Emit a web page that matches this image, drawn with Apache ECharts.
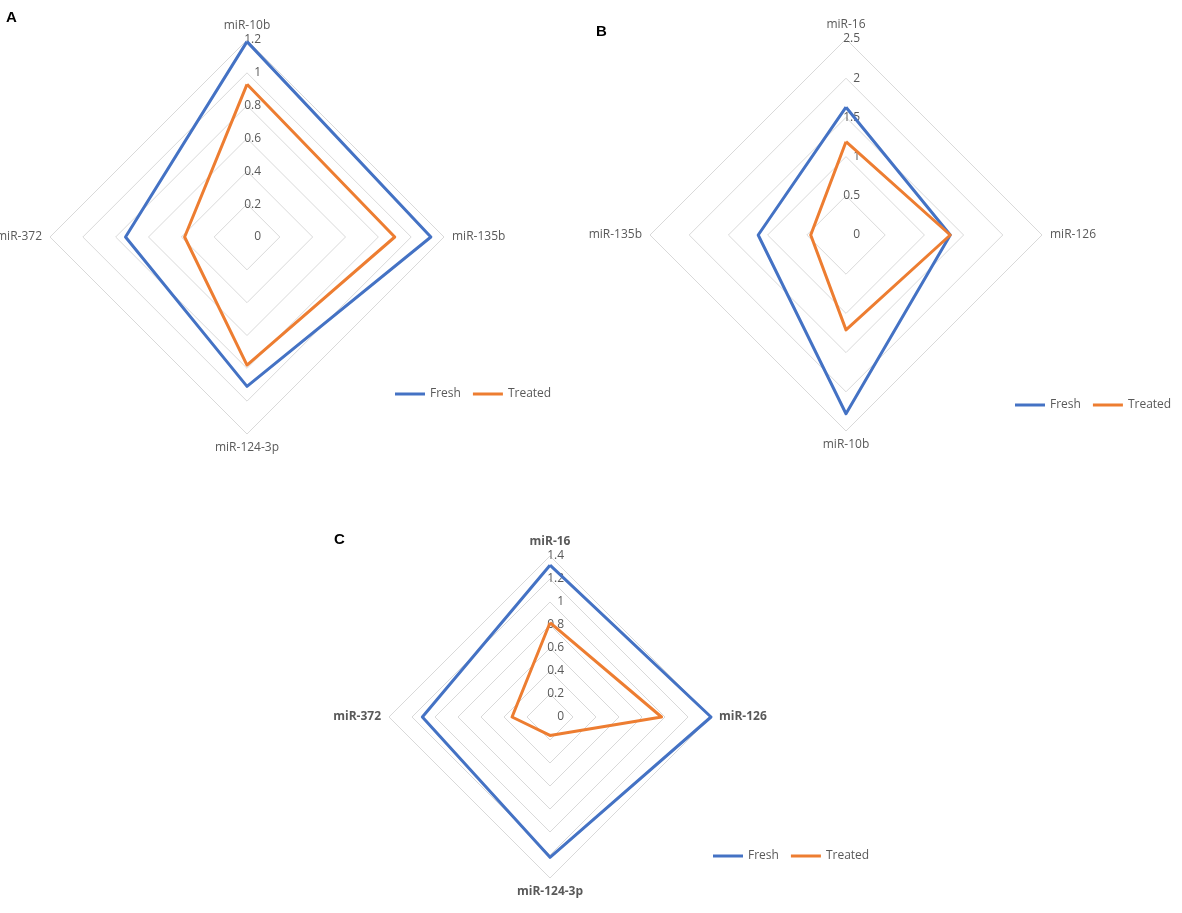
<!DOCTYPE html>
<html>
<head>
<meta charset="utf-8">
<script src="https://cdn.jsdelivr.net/npm/echarts@6/dist/echarts.min.js"></script>
<style>html,body{margin:0;background:#fff}#chart{width:1182px;height:913px}</style>
</head>
<body>
<div id="chart"></div>
<script>
// indicators listed top, left, bottom, right (echarts places them counterclockwise)
var namesA = ['miR-10b', 'miR-372', 'miR-124-3p', 'miR-135b'];
var freshA = [1.19, 0.74, 0.91, 1.12];
var treatedA = [0.93, 0.38, 0.78, 0.90];

var namesB = ['miR-16', 'miR-135b', 'miR-10b', 'miR-126'];
var freshB = [1.63, 1.12, 2.28, 1.33];
var treatedB = [1.19, 0.45, 1.21, 1.33];

var namesC = ['miR-16', 'miR-372', 'miR-124-3p', 'miR-126'];
var freshC = [1.32, 1.11, 1.22, 1.40];
var treatedC = [0.82, 0.33, 0.16, 0.97];

var panels = [
  {names: namesA, fresh: freshA, treated: treatedA, max: 1.2, step: 0.2, center: [247, 237], r: 197, legend: {left: 390, top: 383}, letter: ['A', 6, 10], bold: false},
  {names: namesB, fresh: freshB, treated: treatedB, max: 2.5, step: 0.5, center: [846, 235], r: 196, legend: {left: 1010, top: 394}, letter: ['B', 596, 24], bold: false},
  {names: namesC, fresh: freshC, treated: treatedC, max: 1.4, step: 0.2, center: [550, 717], r: 161, legend: {left: 708, top: 845}, letter: ['C', 334, 532], bold: true}
];

var colFresh = '#4472C4', colTreated = '#ED7D31';
var radar = [], polar = [], angleAxis = [], radiusAxis = [], series = [], legend = [], graphic = [];

panels.forEach(function (p, i) {
  radar.push({
    center: p.center, radius: p.r, startAngle: 90, shape: 'polygon',
    splitNumber: Math.round(p.max / p.step),
    indicator: p.names.map(function (n) { return {name: n, min: 0, max: p.max}; }),
    axisName: {color: '#595959', fontSize: 12, fontWeight: p.bold ? 'bold' : 'normal', fontFamily: 'Open Sans'},
    nameGap: 8,
    axisLine: {show: false},
    splitLine: {lineStyle: {color: '#d9d9d9', width: 1}},
    splitArea: {show: false}
  });
  polar.push({center: p.center, radius: p.r});
  angleAxis.push({polarIndex: i, startAngle: 90, show: false});
  radiusAxis.push({
    polarIndex: i, min: 0, max: p.max, interval: p.step,
    axisLine: {show: false}, axisTick: {show: false}, splitLine: {show: false},
    axisLabel: {color: '#595959', fontSize: 12, margin: -14, align: 'right', fontFamily: 'Open Sans',
      formatter: function (v) { return String(Math.round(v * 10) / 10); }}
  });
  series.push({
    type: 'radar', radarIndex: i, symbol: 'none',
    data: [
      {name: 'Fresh', value: p.fresh, lineStyle: {color: colFresh, width: 3}, itemStyle: {color: colFresh}},
      {name: 'Treated', value: p.treated, lineStyle: {color: colTreated, width: 3}, itemStyle: {color: colTreated}}
    ]
  });
  legend.push({
    data: ['Fresh', 'Treated'], left: p.legend.left, top: p.legend.top, itemWidth: 30, itemHeight: 3, itemGap: 12,
    icon: 'rect', textStyle: {color: '#595959', fontSize: 12, fontFamily: 'Open Sans'}
  });
  graphic.push({type: 'text', left: p.letter[1], top: p.letter[2],
    style: {text: p.letter[0], font: 'bold 15px Arial', fill: '#000'}});
});

var chart = echarts.init(document.getElementById('chart'));
chart.setOption({
  animation: false,
  color: [colFresh, colTreated],
  radar: radar, polar: polar, angleAxis: angleAxis, radiusAxis: radiusAxis,
  legend: legend, series: series, graphic: graphic
});
</script>
</body>
</html>
